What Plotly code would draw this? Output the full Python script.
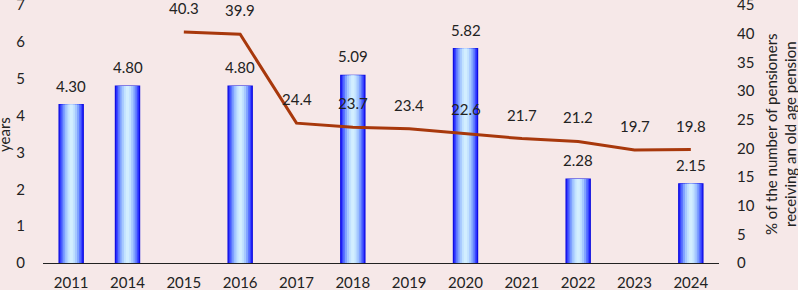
import plotly.graph_objects as go

years = ["2011", "2014", "2015", "2016", "2017", "2018", "2019", "2020", "2021", "2022", "2023", "2024"]
duration_years = [4.30, 4.80, None, 4.80, None, 5.09, None, 5.82, None, 2.28, None, 2.15]
share_pct = [None, None, 40.3, 39.9, 24.4, 23.7, 23.4, 22.6, 21.7, 21.2, 19.7, 19.8]

FONT = "Lato"
FS = 15
pos = list(range(len(years)))

fig = go.Figure()

layers = [
    (0.43, "#1c1cff"),
    (0.39, "#3a46ff"),
    (0.34, "#5a74ff"),
    (0.28, "#80a2ff"),
    (0.21, "#a6c8ff"),
    (0.13, "#c2e2ff"),
    (0.06, "#d2eeff"),
]
for i, (w, c) in enumerate(layers):
    fig.add_trace(go.Bar(
        x=pos, y=duration_years, width=w,
        marker=dict(color=c, line=dict(width=1.2 if i == 0 else 0, color="#1010e0")),
        yaxis="y", hoverinfo="skip", showlegend=False,
    ))

fig.add_trace(go.Scatter(
    x=pos, y=share_pct, yaxis="y2", mode="lines",
    line=dict(color="#a8380c", width=3), showlegend=False, hoverinfo="skip",
))

ann = []
for x, v in zip(pos, duration_years):
    if v is not None:
        ann.append(dict(x=x, y=v, xref="x", yref="y", text=f"{v:.2f}", showarrow=False,
                        yshift=19, font=dict(family=FONT, size=FS, color="#222")))
for x, v in zip(pos, share_pct):
    if v is not None:
        ann.append(dict(x=x, y=v, xref="x", yref="y2", text=f"{v:.1f}", showarrow=False,
                        yshift=24, font=dict(family=FONT, size=FS, color="#222")))
ann.append(dict(x=-0.0577, y=0.5, xref="paper", yref="paper", text="years", textangle=-90,
                xanchor="center", yanchor="middle",
                showarrow=False, font=dict(family=FONT, size=FS, color="#222")))
ann.append(dict(x=1.0917, y=0.5, xref="paper", yref="paper",
                text="% of the number of pensioners<br>receiving an old age pension",
                textangle=-90, showarrow=False, xanchor="center", yanchor="middle",
                font=dict(family=FONT, size=FS, color="#222")))

fig.update_layout(
    width=798, height=290, autosize=False,
    margin=dict(l=43, r=79, t=5, b=27, autoexpand=False),
    paper_bgcolor="#f6e8e8", plot_bgcolor="#f6e8e8",
    barmode="overlay",
    font=dict(family=FONT, size=FS, color="#222"),
    annotations=ann,
    xaxis=dict(range=[-0.5, len(years) - 0.5], tickvals=pos, ticktext=years,
               showline=True, linecolor="#222", linewidth=1, zeroline=False,
               showgrid=False, ticks="outside", ticklen=6, tickcolor="rgba(0,0,0,0)",
               tickfont=dict(size=FS), automargin=False),
    yaxis=dict(range=[0, 7.001], dtick=1, showgrid=False, zeroline=False, showline=False,
               ticks="", tickfont=dict(size=FS), automargin=False, ticklabelstandoff=17,
               ticklabeloverflow="allow"),
    yaxis2=dict(range=[0, 45.0065], dtick=5, overlaying="y", side="right", showgrid=False,
                zeroline=False, showline=False, ticks="", automargin=False,
                tickfont=dict(size=FS), ticklabelstandoff=17, ticklabeloverflow="allow"),
)

fig.write_html("out.html", config={"displayModeBar": False},
               post_script="document.body.style.margin='0';document.body.style.background='#f6e8e8';")
